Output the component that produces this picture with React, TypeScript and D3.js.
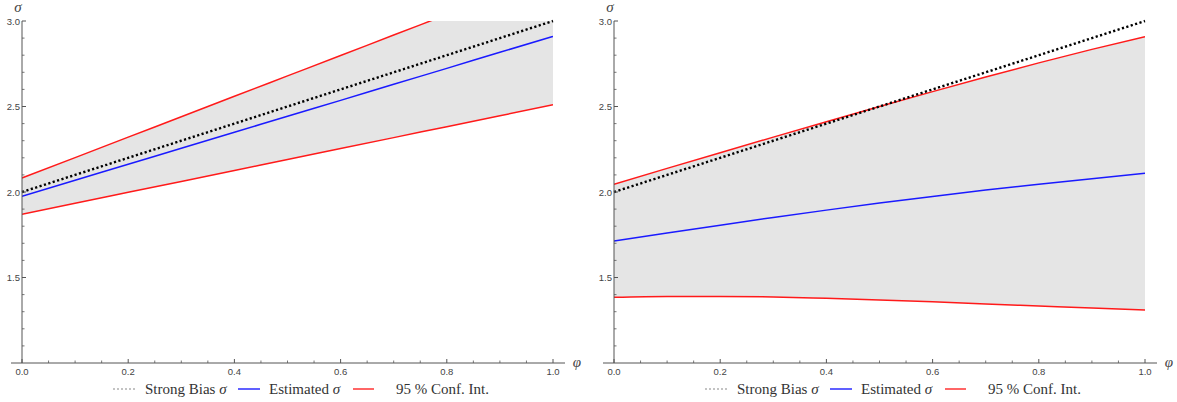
import React from 'react';
import * as d3 from 'd3';

// φ grid shared by every series
const phi = [0, 0.1, 0.2, 0.3, 0.4, 0.5, 0.6, 0.7, 0.8, 0.9, 1.0];

// left panel
const leftBias = [2, 2.1, 2.2, 2.3, 2.4, 2.5, 2.6, 2.7, 2.8, 2.9, 3];
const leftEstimated = [1.975, 2.069, 2.162, 2.256, 2.349, 2.443, 2.536, 2.63, 2.723, 2.817, 2.91];
const leftUpper = [2.082, 2.201, 2.321, 2.44, 2.56, 2.679, 2.798, 2.918, 3.037, 3.157, 3.276];
const leftLower = [1.87, 1.934, 1.998, 2.062, 2.126, 2.19, 2.254, 2.318, 2.382, 2.446, 2.51];

// right panel
const rightBias = [2, 2.1, 2.2, 2.3, 2.4, 2.5, 2.6, 2.7, 2.8, 2.9, 3];
const rightEstimated = [1.713, 1.76, 1.806, 1.851, 1.894, 1.935, 1.974, 2.011, 2.045, 2.078, 2.11];
const rightUpper = [2.045, 2.138, 2.23, 2.321, 2.411, 2.5, 2.587, 2.672, 2.755, 2.834, 2.908];
const rightLower = [1.384, 1.389, 1.389, 1.386, 1.378, 1.369, 1.358, 1.345, 1.333, 1.321, 1.31];

const xMajor = [0, 0.2, 0.4, 0.6, 0.8, 1.0];
const yMajor = [1.5, 2.0, 2.5, 3.0];

const panels = [
  { ox: 0, bias: leftBias, est: leftEstimated, upper: leftUpper, lower: leftLower },
  { ox: 592, bias: rightBias, est: rightEstimated, upper: rightUpper, lower: rightLower },
];

const axisColor = '#555';
const tickFont = { fontFamily: '"Liberation Sans", Arial, sans-serif' };
const serif = { fontFamily: '"Liberation Serif", "Tinos", "Times New Roman", "DejaVu Serif", serif' };

const Panel = ({ ox, bias, est, upper, lower, idx }: any) => {
  const x = d3.scaleLinear().domain([0, 1]).range([ox + 22, ox + 553]);
  const y = d3.scaleLinear().domain([1, 3]).range([363, 21]);

  const pts = (vals: number[]) => phi.map((p, i) => [p, vals[i]] as [number, number]);
  const line = d3.line<[number, number]>()
    .x(d => x(d[0]))
    .y(d => y(d[1]))
    .curve(d3.curveMonotoneX);
  const band = d3.area<number>()
    .x(p => x(p))
    .y0((_, i) => y(lower[i]))
    .y1((_, i) => y(upper[i]))
    .curve(d3.curveMonotoneX);

  const xMinor = d3.range(0, 1.0001, 0.05).filter(v => !xMajor.some(m => Math.abs(m - v) < 1e-6));
  const yMinor = d3.range(1.1, 3.0001, 0.1).filter(v => !yMajor.some(m => Math.abs(m - v) < 1e-6));
  const clipId = `plot-clip-${idx}`;
  const y0 = y(1);

  return (
    <g>
      <defs>
        <clipPath id={clipId}>
          <rect x={x(0)} y={y(3)} width={x(1) - x(0)} height={y(1) - y(3)} />
        </clipPath>
      </defs>
      <g clipPath={`url(#${clipId})`}>
        <path d={band(phi) || ''} fill="#e5e5e5" />
        <path d={line(pts(lower)) || ''} fill="none" stroke="#ff1a1a" strokeWidth={1.5} />
        <path d={line(pts(upper)) || ''} fill="none" stroke="#ff1a1a" strokeWidth={1.5} />
        <path d={line(pts(est)) || ''} fill="none" stroke="#1a1aff" strokeWidth={1.5} />
      </g>
      <path d={line(pts(bias)) || ''} fill="none" stroke="#000" strokeWidth={2.4} strokeDasharray="2.2,2.4" />

      {/* axes */}
      <line x1={ox + 11} x2={ox + 565} y1={y0} y2={y0} stroke={axisColor} strokeWidth={1} />
      <line x1={x(0)} x2={x(0)} y1={y(3)} y2={y0} stroke={axisColor} strokeWidth={1} />
      {xMajor.map(v => (
        <g key={`xM${v}`}>
          <line x1={x(v)} x2={x(v)} y1={y0} y2={y0 - 4} stroke={axisColor} />
          <text x={x(v)} y={y0 + 12} textAnchor="middle" fontSize={9.5} style={tickFont} fill="#444">{v.toFixed(1)}</text>
        </g>
      ))}
      {xMinor.map(v => (
        <line key={`xm${v}`} x1={x(v)} x2={x(v)} y1={y0} y2={y0 - 2.5} stroke={axisColor} strokeWidth={0.8} />
      ))}
      {yMajor.map(v => (
        <g key={`yM${v}`}>
          <line x1={x(0)} x2={x(0) + 4} y1={y(v)} y2={y(v)} stroke={axisColor} />
          <text x={x(0) - 2} y={y(v) + 3.5} textAnchor="end" fontSize={9.5} style={tickFont} fill="#444">{v.toFixed(1)}</text>
        </g>
      ))}
      {yMinor.map(v => (
        <line key={`ym${v.toFixed(1)}`} x1={x(0)} x2={x(0) + 2.5} y1={y(v)} y2={y(v)} stroke={axisColor} strokeWidth={0.8} />
      ))}
      <text x={x(0) - 4} y={12} textAnchor="middle" fontSize={15} fontStyle="italic" style={serif} fill="#444">σ</text>
      <text x={ox + 577} y={y0 + 4} textAnchor="middle" fontSize={15} fontStyle="italic" style={serif} fill="#444">φ</text>

      {/* legend */}
      <line x1={ox + 113} x2={ox + 135} y1={389} y2={389} stroke="#888" strokeWidth={1.2} strokeDasharray="2,2" />
      <text x={ox + 145} y={394} fontSize={15} style={serif} fill="#333">Strong Bias <tspan fontStyle="italic">σ</tspan></text>
      <line x1={ox + 238} x2={ox + 260} y1={389} y2={389} stroke="#6060ff" strokeWidth={2} />
      <text x={ox + 269} y={394} fontSize={15} style={serif} fill="#333">Estimated <tspan fontStyle="italic">σ</tspan></text>
      <line x1={ox + 353} x2={ox + 374} y1={389} y2={389} stroke="#ff6666" strokeWidth={2} />
      <text x={ox + 396} y={394} fontSize={15} style={serif} fill="#333">95 % Conf. Int.</text>
    </g>
  );
};

export default function App() {
  return (
    <svg width={1177} height={402} style={{ position: 'absolute', left: 0, top: 0, background: '#fff' }}>
      {panels.map((p, i) => (
        <Panel key={i} idx={i} {...p} />
      ))}
    </svg>
  );
}
